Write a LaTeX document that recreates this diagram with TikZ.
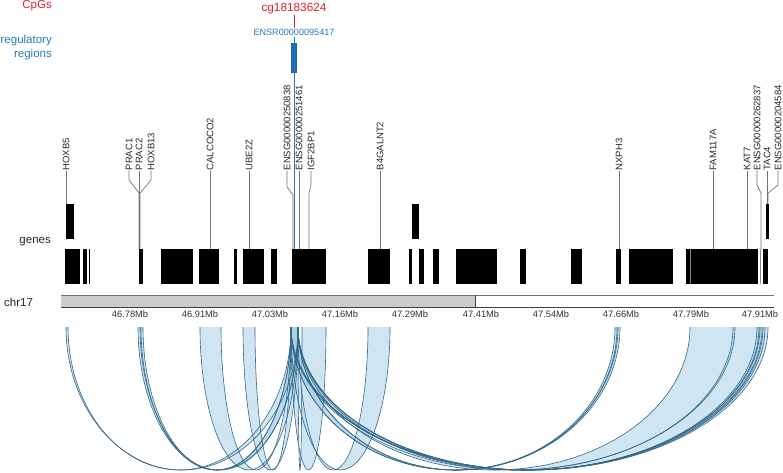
\documentclass[tikz,border=0pt]{standalone}
\usepackage{fontspec}
\setmainfont{Liberation Sans}
\definecolor{cpgred}{RGB}{222,32,45}
\definecolor{regblue}{RGB}{40,120,190}
\definecolor{regbox}{RGB}{25,108,178}
\definecolor{bandfill}{RGB}{170,208,232}
\definecolor{arcblue}{RGB}{52,104,134}
\tikzset{
  glabel/.style={rotate=90,anchor=west,inner sep=0pt,font=\fontsize{9.5}{10}\selectfont,text=black!85},
  leader/.style={draw=black!55,line width=0.7pt},
  genebox/.style={fill=black,draw=none},
  axlabel/.style={font=\fontsize{9.3}{10}\selectfont,text=black!80,inner sep=0pt},
  tracktitle/.style={font=\fontsize{11.5}{13.5}\selectfont,inner sep=0pt},
  arcfill/.style={fill=bandfill,fill opacity=0.55,draw=none},
  arcline/.style={draw=arcblue,line width=0.6pt},
}
\begin{document}
\begin{tikzpicture}[x=1pt,y=-1pt]
\useasboundingbox (0,0) rectangle (783,472);
\def\arcTop{327}
\def\arcDepth{143}

% track titles
\node[tracktitle,text=cpgred,anchor=east] (tcpg) at (52,5.5) {CpGs};
\node[tracktitle,text=regblue,anchor=east,align=right] (treg) at (52,47.5) {regulatory\\regions};
\node[tracktitle,text=black!85,anchor=east] (tgenes) at (51,242) {genes};
\node[tracktitle,text=black!85,anchor=west] (tchr) at (4,302) {chr17};

% CpG and regulatory region
\node[font=\fontsize{11.8}{12}\selectfont,text=cpgred,inner sep=0pt] (cg) at (294,9) {cg18183624};
\coordinate (cgend) at (294,28);
\draw[cpgred,line width=0.7pt] (cg.south) -- (cgend);
\node[font=\fontsize{9.1}{10}\selectfont,text=regblue,inner sep=0pt] (ensr) at (294,32.5) {ENSR00000095417};
\coordinate (regtop) at (294,37);
\coordinate (regbot) at (294,249);
\draw[regblue,line width=0.8pt] (regtop) -- (regbot);
\fill[regbox] (291,43) rectangle (297,73);

% gene label leaders
\foreach \nm/\x/\txt in {hoxb5/66/HOXB5, prac1/129/PRAC1, prac2/139/PRAC2, hoxb13/151/HOXB13,
  calcoco2/210/CALCOCO2, ube2z/249/UBE2Z, ensgA/287/ENSG00000250838, ensgB/299/ENSG00000251461,
  igf2bp1/311/IGF2BP1, b4galnt2/380/B4GALNT2, nxph3/619/NXPH3, fam117a/713/FAM117A, kat7/747/KAT7,
  ensgC/757/ENSG00000262837, tac4/767/TAC4, ensgD/778/ENSG00000204584}
  {\node[glabel] (\nm) at (\x,170.5) {\txt};}

\draw[leader] (hoxb5.west) -- (66,204);
\draw[leader] (prac1.west) -- (129,180) -- (139,193) -- (139,249);
\draw[leader] (prac2.west) -- (139,249);
\draw[leader] (hoxb13.west) -- (151,180) -- (140,193) -- (140,249);
\draw[leader] (calcoco2.west) -- (210,249);
\draw[leader] (ube2z.west) -- (249,249);
\draw[leader] (ensgA.west) -- (287,187) -- (293,195) -- (293,249);
\draw[leader] (ensgB.west) -- (299,249);
\draw[leader] (igf2bp1.west) -- (311,185) -- (309,193) -- (309,249);
\draw[leader] (b4galnt2.west) -- (380,249);
\draw[leader] (nxph3.west) -- (619,249);
\draw[leader] (fam117a.west) -- (713,249);
\draw[leader] (kat7.west) -- (747,249);
\draw[leader] (ensgC.west) -- (757,185) -- (761,193) -- (761,249);
\draw[leader] (tac4.west) -- (767,204);
\draw[leader] (ensgD.west) -- (778,185) -- (768,193) -- (768,204);
\draw[regblue,line width=0.8pt] (regtop) -- (regbot);

% genes upper row
\foreach \a/\b in {66/74, 412/419, 766/769}
  {\fill[genebox] (\a,204) rectangle (\b,239);}
% genes lower row
\foreach \a/\b in {65/80, 82.5/86.5, 88.5/90, 139/143, 161/193, 199/219, 234/236.5, 243/264, 271/277,
  292/326, 368/390, 409/412, 419/424, 433/439, 456/497, 520/526, 571/582, 616/621, 629/673, 686/758, 763/768}
  {\fill[genebox] (\a,249) rectangle (\b,284);}
\draw[black!45,line width=0.6pt] (690,249) -- (690,284);
\draw[black!45,line width=0.5pt] (760.5,249) -- (760.5,284);

% chromosome axis
\fill[black!20] (61,295) rectangle (475,307);
\draw[black!55,line width=0.6pt] (61,295) -- (774,295);
\draw[black!75,line width=0.7pt] (61,307) -- (774,307);
\draw[black!75,line width=0.7pt] (475,295) -- (475,307);
\foreach \x/\t in {130/46.78Mb, 200/46.91Mb, 270/47.03Mb, 340/47.16Mb, 410/47.29Mb,
  481/47.41Mb, 551/47.54Mb, 621/47.66Mb, 691/47.79Mb, 760/47.91Mb}
  {\node[axlabel] (ax\x) at (\x,314.5) {\t};}

% interactions
\def\bandlist{66/68/291/298, 138/141/291/298, 140/143/291/298, 200/221/291/298, 243/255/291/298,
  291/298/302/326, 291/298/368/390, 291/298/615/618, 291/298/617/620, 291/298/690/735,
  291/298/733/760, 291/298/757/762, 291/298/759/765, 291/298/763/768}
\foreach \a/\b/\c/\d in \bandlist {
  \pgfmathsetmacro\myro{(\d-\a)/2}
  \pgfmathsetmacro\myri{(\c-\b)/2}
  \fill[arcfill] (\a,\arcTop) arc[start angle=180,end angle=360,x radius=\myro pt,y radius=\arcDepth pt]
     -- (\c,\arcTop) arc[start angle=360,end angle=180,x radius=\myri pt,y radius=\arcDepth pt] -- cycle;
}
\foreach \a/\b/\c/\d in \bandlist {
  \pgfmathsetmacro\myro{(\d-\a)/2}
  \pgfmathsetmacro\myri{(\c-\b)/2}
  \draw[arcline] (\a,\arcTop) arc[start angle=180,end angle=360,x radius=\myro pt,y radius=\arcDepth pt];
  \draw[arcline] (\b,\arcTop) arc[start angle=180,end angle=360,x radius=\myri pt,y radius=\arcDepth pt];
}
\end{tikzpicture}
\end{document}
